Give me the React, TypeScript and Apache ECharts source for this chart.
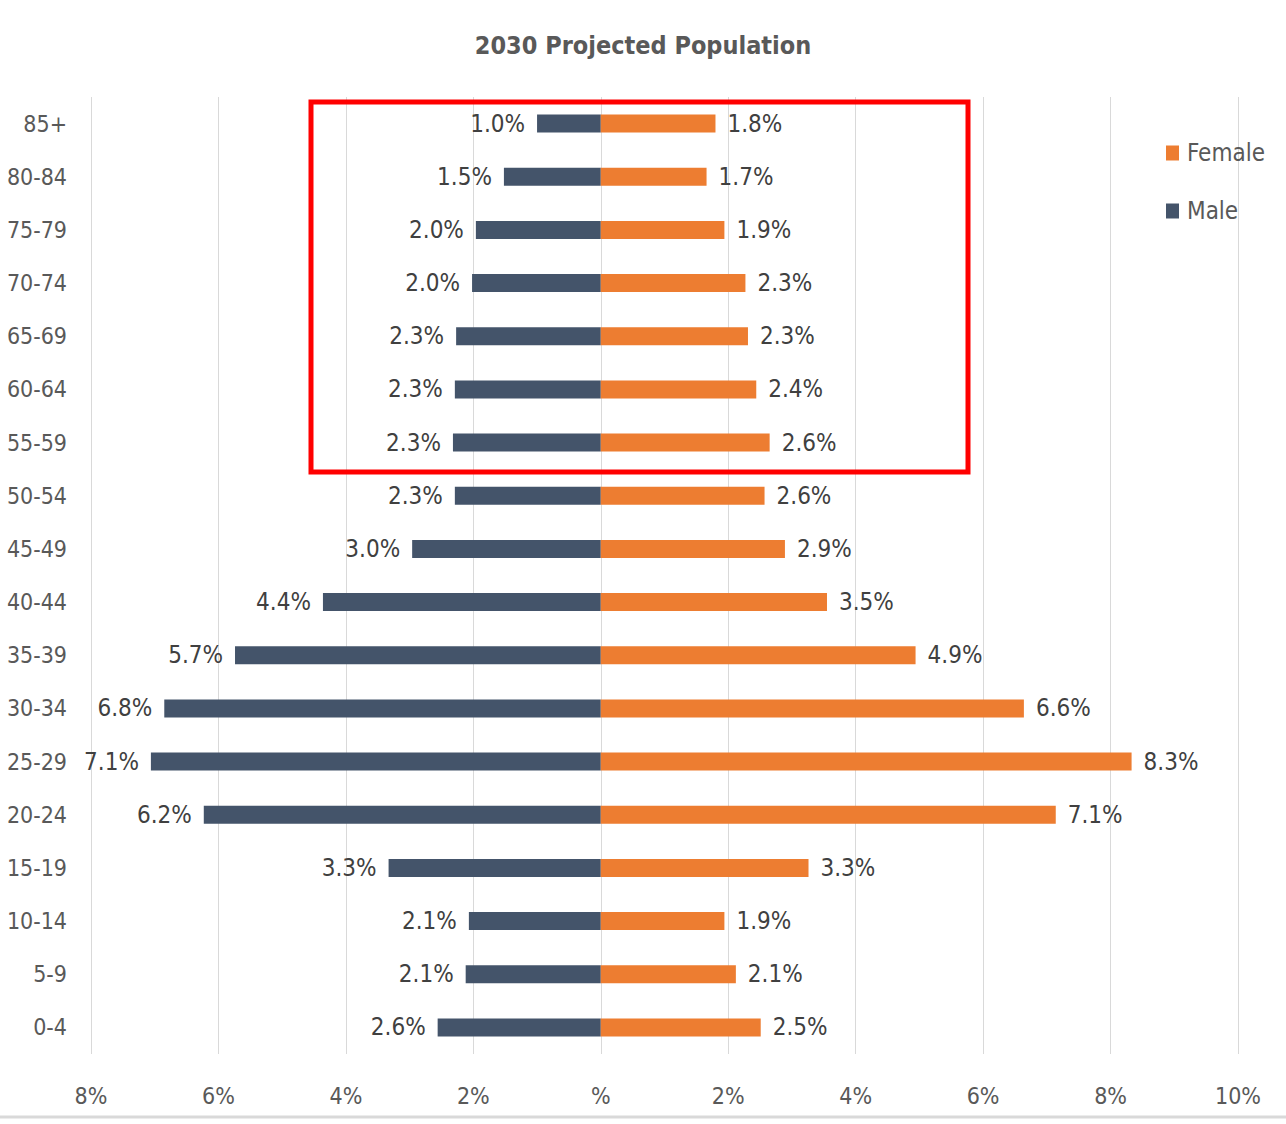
import React, { useEffect, useRef } from "react";
import * as echarts from "echarts";

const categories = ["85+", "80-84", "75-79", "70-74", "65-69", "60-64", "55-59", "50-54", "45-49", "40-44", "35-39", "30-34", "25-29", "20-24", "15-19", "10-14", "5-9", "0-4"];
const maleValues = [1.0, 1.52, 1.96, 2.02, 2.27, 2.29, 2.32, 2.29, 2.96, 4.36, 5.74, 6.85, 7.06, 6.23, 3.33, 2.07, 2.12, 2.56];
const femaleValues = [1.8, 1.66, 1.94, 2.27, 2.31, 2.44, 2.65, 2.57, 2.89, 3.55, 4.94, 6.64, 8.33, 7.14, 3.26, 1.94, 2.12, 2.51];
const xTicks = { min: -8, max: 10, interval: 2 };

const FONT = "'DejaVu Sans Condensed', 'DejaVu Sans', sans-serif";

export default function App() {
  const ref = useRef<HTMLDivElement>(null);
  useEffect(() => {
    document.body.style.margin = "0";
    const chart = echarts.init(ref.current!, null, { renderer: "svg" });
    const labelFmt = (p: any) => Math.abs(p.value).toFixed(1) + "%";
    chart.setOption({
      animation: false,
      backgroundColor: "#ffffff",
      textStyle: { fontFamily: FONT },
      title: {
        text: "2030 Projected Population",
        left: "center",
        top: 28,
        textStyle: { fontFamily: FONT, fontSize: 25, fontWeight: "bold", color: "#595959" },
      },
      legend: {
        orient: "vertical",
        left: 1161,
        top: 136,
        itemWidth: 13,
        itemHeight: 15,
        itemGap: 34,
        icon: "rect",
        data: ["Female", "Male"],
        textStyle: { fontFamily: FONT, fontSize: 24, lineHeight: 24, color: "#595959", padding: [0, 0, 0, 3] },
      },
      grid: { left: 91, right: 48, top: 97, bottom: 70, containLabel: false, outerBoundsMode: "none" },
      xAxis: {
        type: "value",
        min: xTicks.min,
        max: xTicks.max,
        interval: xTicks.interval,
        axisLine: { show: false },
        axisTick: { show: false },
        splitLine: { show: true, lineStyle: { color: "#d9d9d9", width: 1 } },
        axisLabel: {
          margin: 30,
          fontFamily: FONT,
          fontSize: 23,
          color: "#595959",
          formatter: (v: number) => (v === 0 ? "%" : Math.abs(v) + "%"),
        },
      },
      yAxis: {
        type: "category",
        inverse: true,
        data: categories,
        axisLine: { show: false },
        axisTick: { show: false },
        axisLabel: { margin: 24, fontFamily: FONT, fontSize: 23, color: "#595959" },
      },
      series: [
        {
          name: "Male",
          type: "bar",
          stack: "pop",
          barWidth: 18,
          data: maleValues.map((v) => -v),
          itemStyle: { color: "#44546A" },
          label: {
            show: true,
            position: "left",
            distance: 12,
            fontFamily: FONT,
            fontSize: 24,
            color: "#404040",
            formatter: labelFmt,
          },
        },
        {
          name: "Female",
          type: "bar",
          stack: "pop",
          barWidth: 18,
          data: femaleValues,
          itemStyle: { color: "#ED7D31" },
          label: {
            show: true,
            position: "right",
            distance: 12,
            fontFamily: FONT,
            fontSize: 24,
            color: "#404040",
            formatter: labelFmt,
          },
        },
      ],
      graphic: [
        {
          type: "rect",
          shape: { x: 311, y: 102, width: 657, height: 370 },
          style: { fill: "none", stroke: "#ff0000", lineWidth: 5 },
          z: 100,
        },
        {
          type: "line",
          shape: { x1: 0, y1: 1117, x2: 1286, y2: 1117 },
          style: { stroke: "#d9d9d9", lineWidth: 3 },
        },
      ],
    });
    return () => chart.dispose();
  }, []);
  return <div ref={ref} style={{ width: 1286, height: 1124 }} />;
}
